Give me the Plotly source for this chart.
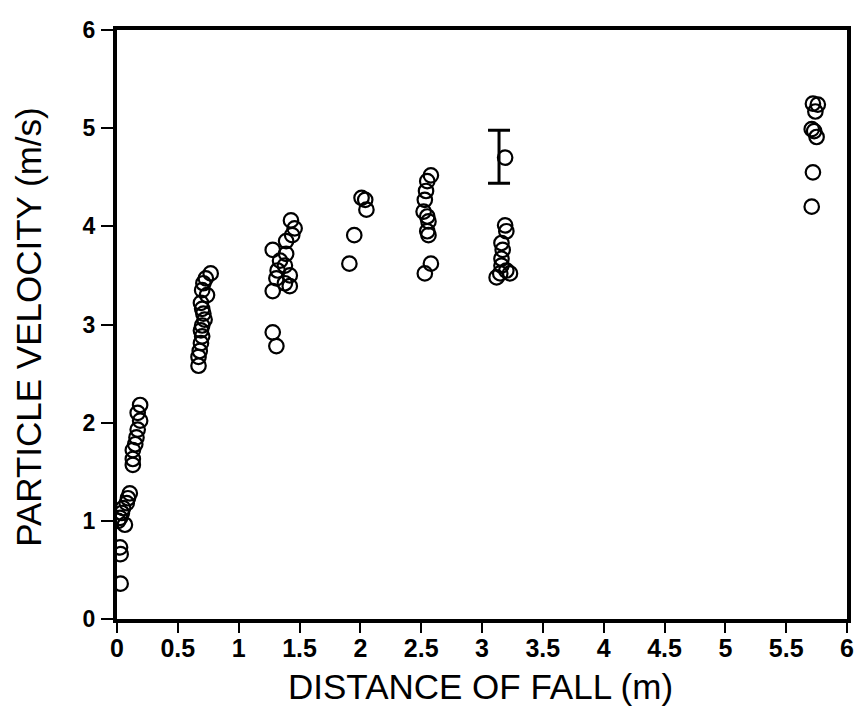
import plotly.graph_objects as go

# Measured data (distance of fall in m, particle velocity in m/s)
dist = [
    # near 0
    0.19, 0.17, 0.19, 0.17, 0.16, 0.15, 0.13, 0.13, 0.13,
    0.105, 0.09, 0.08, 0.05, 0.04, 0.025, 0.01, 0.065,
    0.025, 0.03, 0.03,
    # ~0.7
    0.77, 0.73, 0.71, 0.70, 0.74, 0.69, 0.70, 0.71, 0.72, 0.70, 0.69, 0.70, 0.69, 0.68, 0.67, 0.67,
    # ~1.35
    1.43, 1.46, 1.44, 1.39, 1.28, 1.39, 1.34, 1.38, 1.32, 1.42, 1.31, 1.38, 1.28, 1.42, 1.28, 1.31,
    # ~2
    2.01, 2.04, 2.05, 1.95, 1.91,
    # ~2.55
    2.58, 2.55, 2.54, 2.53, 2.52, 2.55, 2.56, 2.55, 2.56, 2.58, 2.53,
    # ~3.15
    3.19, 3.19, 3.20, 3.16, 3.17, 3.16, 3.16, 3.20, 3.15, 3.23, 3.12,
    # ~5.7
    5.72, 5.76, 5.74, 5.71, 5.73, 5.75, 5.72, 5.71,
]
velocity = [
    2.18, 2.10, 2.02, 1.93, 1.85, 1.78, 1.72, 1.63, 1.57,
    1.28, 1.23, 1.18, 1.13, 1.08, 1.03, 1.00, 0.96,
    0.73, 0.66, 0.36,
    3.52, 3.47, 3.42, 3.35, 3.30, 3.22, 3.16, 3.11, 3.05, 2.99, 2.94, 2.88, 2.81, 2.73, 2.67, 2.58,
    4.06, 3.98, 3.91, 3.85, 3.76, 3.72, 3.65, 3.60, 3.55, 3.50, 3.47, 3.42, 3.34, 3.39, 2.92, 2.78,
    4.29, 4.27, 4.17, 3.91, 3.62,
    4.52, 4.46, 4.36, 4.27, 4.15, 4.10, 4.05, 3.95, 3.91, 3.62, 3.52,
    4.70, 4.01, 3.95, 3.83, 3.76, 3.67, 3.60, 3.55, 3.52, 3.52, 3.48,
    5.25, 5.24, 5.17, 4.99, 4.97, 4.91, 4.55, 4.20,
]

# Representative error bar
err_x = [3.14]
err_y = [4.71]
err_half = [0.27]

x_ticks = [0, 0.5, 1, 1.5, 2, 2.5, 3, 3.5, 4, 4.5, 5, 5.5, 6]
x_tick_labels = ["0", "0.5", "1", "1.5", "2", "2.5", "3", "3.5", "4", "4.5", "5", "5.5", "6"]
y_ticks = [0, 1, 2, 3, 4, 5, 6]
y_tick_labels = ["0", "1", "2", "3", "4", "5", "6"]
x_title = "DISTANCE OF FALL (m)"
y_title = "PARTICLE VELOCITY (m/s)"

fig = go.Figure()
fig.add_trace(go.Scatter(
    x=dist, y=velocity, mode="markers",
    marker=dict(symbol="circle-open", size=14.5, color="black", line=dict(width=2.2, color="black")),
    showlegend=False,
))
fig.add_trace(go.Scatter(
    x=err_x, y=err_y, mode="markers",
    marker=dict(size=1, color="rgba(0,0,0,0)"),
    error_y=dict(type="data", array=err_half, visible=True, color="black", thickness=3, width=11),
    showlegend=False,
))

font_family = "Liberation Sans, Arial, sans-serif"
narrow_family = "Liberation Sans Narrow, Arial Narrow, sans-serif"

# the page body adds an 8px offset; figure sized to fit the 863x707 window
OFF = 8
W, H = 863 - OFF, 707 - OFF
L, R, T, B = 117 - OFF, 9, 22 - OFF, 88
pw, ph = W - L - R, H - T - B

def px_to_paper_x(sx):
    return (sx - OFF - L) / pw

def px_to_paper_y(sy):
    return ((T + ph) - (sy - OFF)) / ph

fig.update_layout(
    width=W, height=H,
    margin=dict(l=L, r=R, t=T, b=B),
    paper_bgcolor="white", plot_bgcolor="white",
    font=dict(family=font_family, color="black"),
    xaxis=dict(
        range=[0, 6], tickvals=x_ticks, ticktext=x_tick_labels,
        showgrid=False, zeroline=False,
        showline=True, linecolor="black", linewidth=4, mirror=True,
        ticks="outside", ticklen=10, tickwidth=2, tickcolor="black",
        ticklabelstandoff=-6,
        tickfont=dict(size=25, family=font_family, color="black", weight="bold"),
    ),
    yaxis=dict(
        range=[0, 6], tickvals=y_ticks, ticktext=y_tick_labels,
        showgrid=False, zeroline=False,
        showline=True, linecolor="black", linewidth=4, mirror=True,
        ticks="outside", ticklen=12, tickwidth=2, tickcolor="black",
        ticklabelstandoff=1,
        tickfont=dict(size=23, family=font_family, color="black", weight="bold"),
    ),
    annotations=[
        dict(text=x_title, xref="paper", yref="paper",
             x=px_to_paper_x(484), y=px_to_paper_y(687),
             xanchor="center", yanchor="middle", showarrow=False,
             font=dict(size=35, family=font_family, color="black")),
        dict(text=y_title, xref="paper", yref="paper",
             x=px_to_paper_x(28), y=px_to_paper_y(323),
             xanchor="center", yanchor="middle", showarrow=False, textangle=-90,
             font=dict(size=35, family=narrow_family, color="black")),
    ],
)

fig.write_html("out.html")
